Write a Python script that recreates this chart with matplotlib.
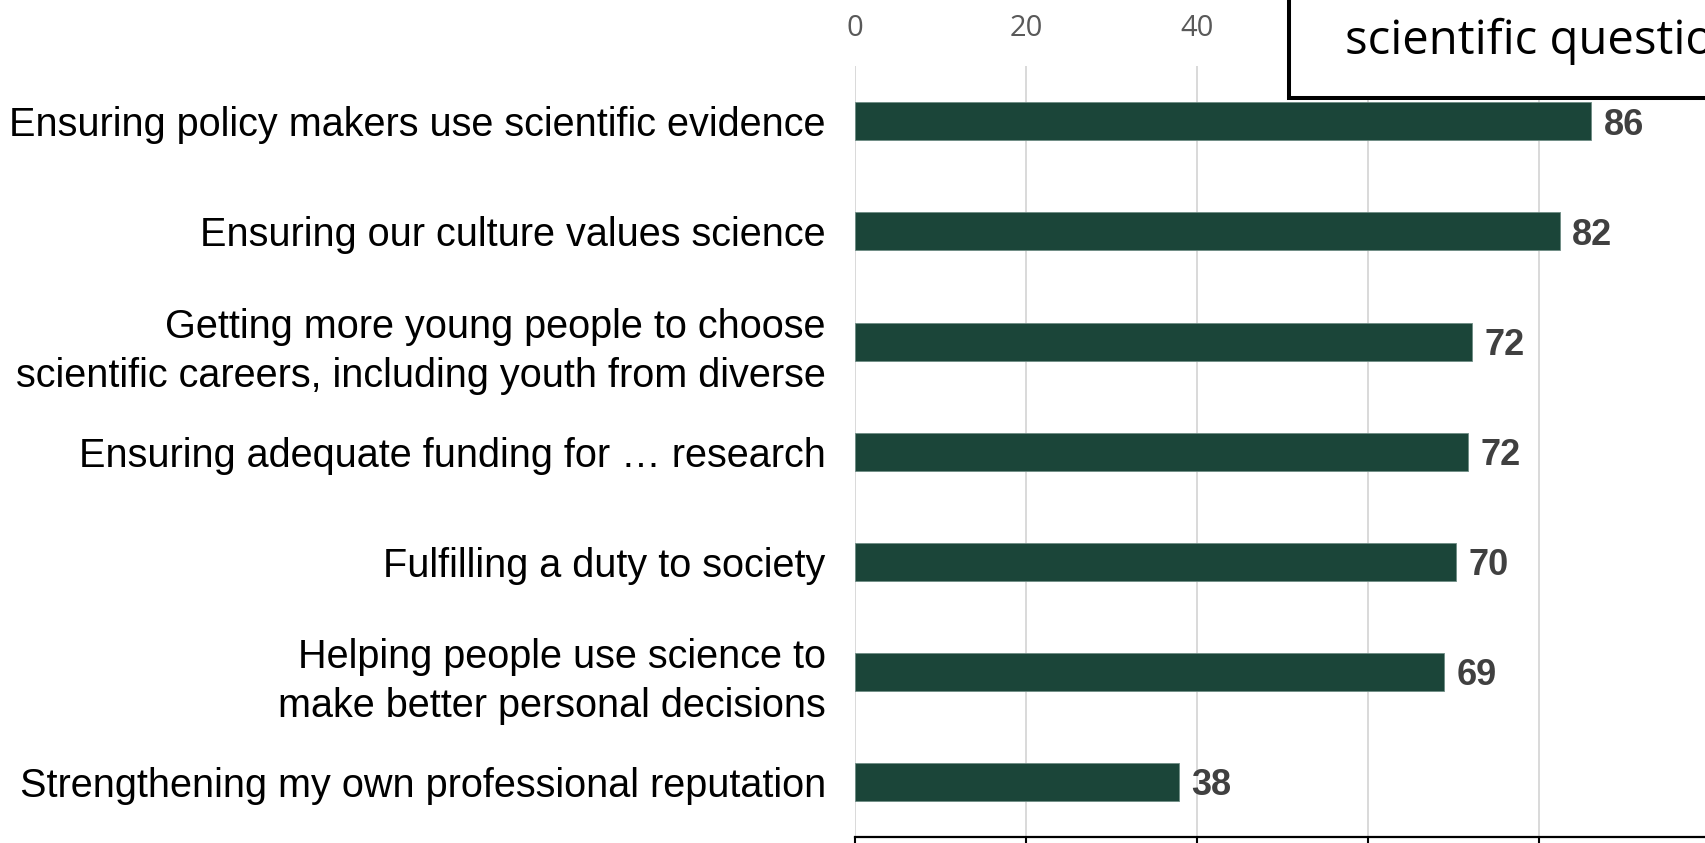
import matplotlib
matplotlib.use("Agg")
import matplotlib.pyplot as plt
from matplotlib.patches import Rectangle

categories = [
    "Ensuring policy makers use scientific evidence",
    "Ensuring our culture values science",
    "Getting more young people to choose\nscientific careers, including youth from diverse",
    "Ensuring adequate funding for \u2026 research",
    "Fulfilling a duty to society",
    "Helping people use science to\nmake better personal decisions",
    "Strengthening my own professional reputation",
]
values = [86.1, 82.4, 72.2, 71.7, 70.3, 68.9, 37.9]
value_labels = ["86", "82", "72", "72", "70", "69", "38"]
xticks = [0, 20, 40, 60, 80, 100]
xtick_labels = ["0", "20", "40", "", "", ""]
box_text = "scientific questions"

W, H = 1706, 843
fig = plt.figure(figsize=(W / 100, H / 100), dpi=100)
fig.patch.set_facecolor("white")

ax = fig.add_axes([855 / W, 1 - 836.9 / H, 855 / W, 770.6 / H])
ypos = list(range(len(categories)))
ax.barh(ypos, values, height=0.345, color="#1B4539", edgecolor="#6E8C84",
        linewidth=0.6, zorder=3)
ax.set_ylim(len(categories) - 0.5, -0.5)
ax.set_xlim(0, 100)
ax.set_xticks(xticks)
ax.set_xticklabels(xtick_labels)
ax.set_yticks(ypos)
ax.set_yticklabels(categories, fontsize=28.5, family=["Liberation Sans", "DejaVu Sans"],
                   color="black", linespacing=1.37)
ax.tick_params(axis="y", length=0, pad=21)
ax.tick_params(axis="x", top=False, bottom=True, labeltop=True, labelbottom=False,
               direction="out", length=6, width=1.5, color="black", pad=11,
               labelsize=21, labelcolor="#595959")
for lab in ax.get_xticklabels():
    lab.set_family(["Open Sans", "DejaVu Sans"])
ax.grid(axis="x", color="#D9D9D9", linewidth=1.4, zorder=0)
ax.set_axisbelow(True)
for s in ["left", "right", "top"]:
    ax.spines[s].set_visible(False)
ax.spines["bottom"].set_color("black")
ax.spines["bottom"].set_linewidth(1.6)

for y, v, lab in zip(ypos, values, value_labels):
    ax.annotate(lab, xy=(v, y), xytext=(9, 0), textcoords="offset points",
                va="center_baseline", ha="left", fontsize=26, fontweight="bold",
                color="#404040", family=["Liberation Sans", "DejaVu Sans"],
                annotation_clip=False)

rect = Rectangle((1289.5 / W, 1 - 98 / H), 0.5, 0.3, transform=fig.transFigure,
                 facecolor="white", edgecolor="black", linewidth=2.9, zorder=10)
fig.patches.append(rect)
fig.text(1345 / W, 1 - 54 / H, box_text, fontsize=34,
         family=["Open Sans", "DejaVu Sans"], color="black", ha="left", va="baseline",
         zorder=11)

fig.savefig("out.png", dpi=100, facecolor="white")
